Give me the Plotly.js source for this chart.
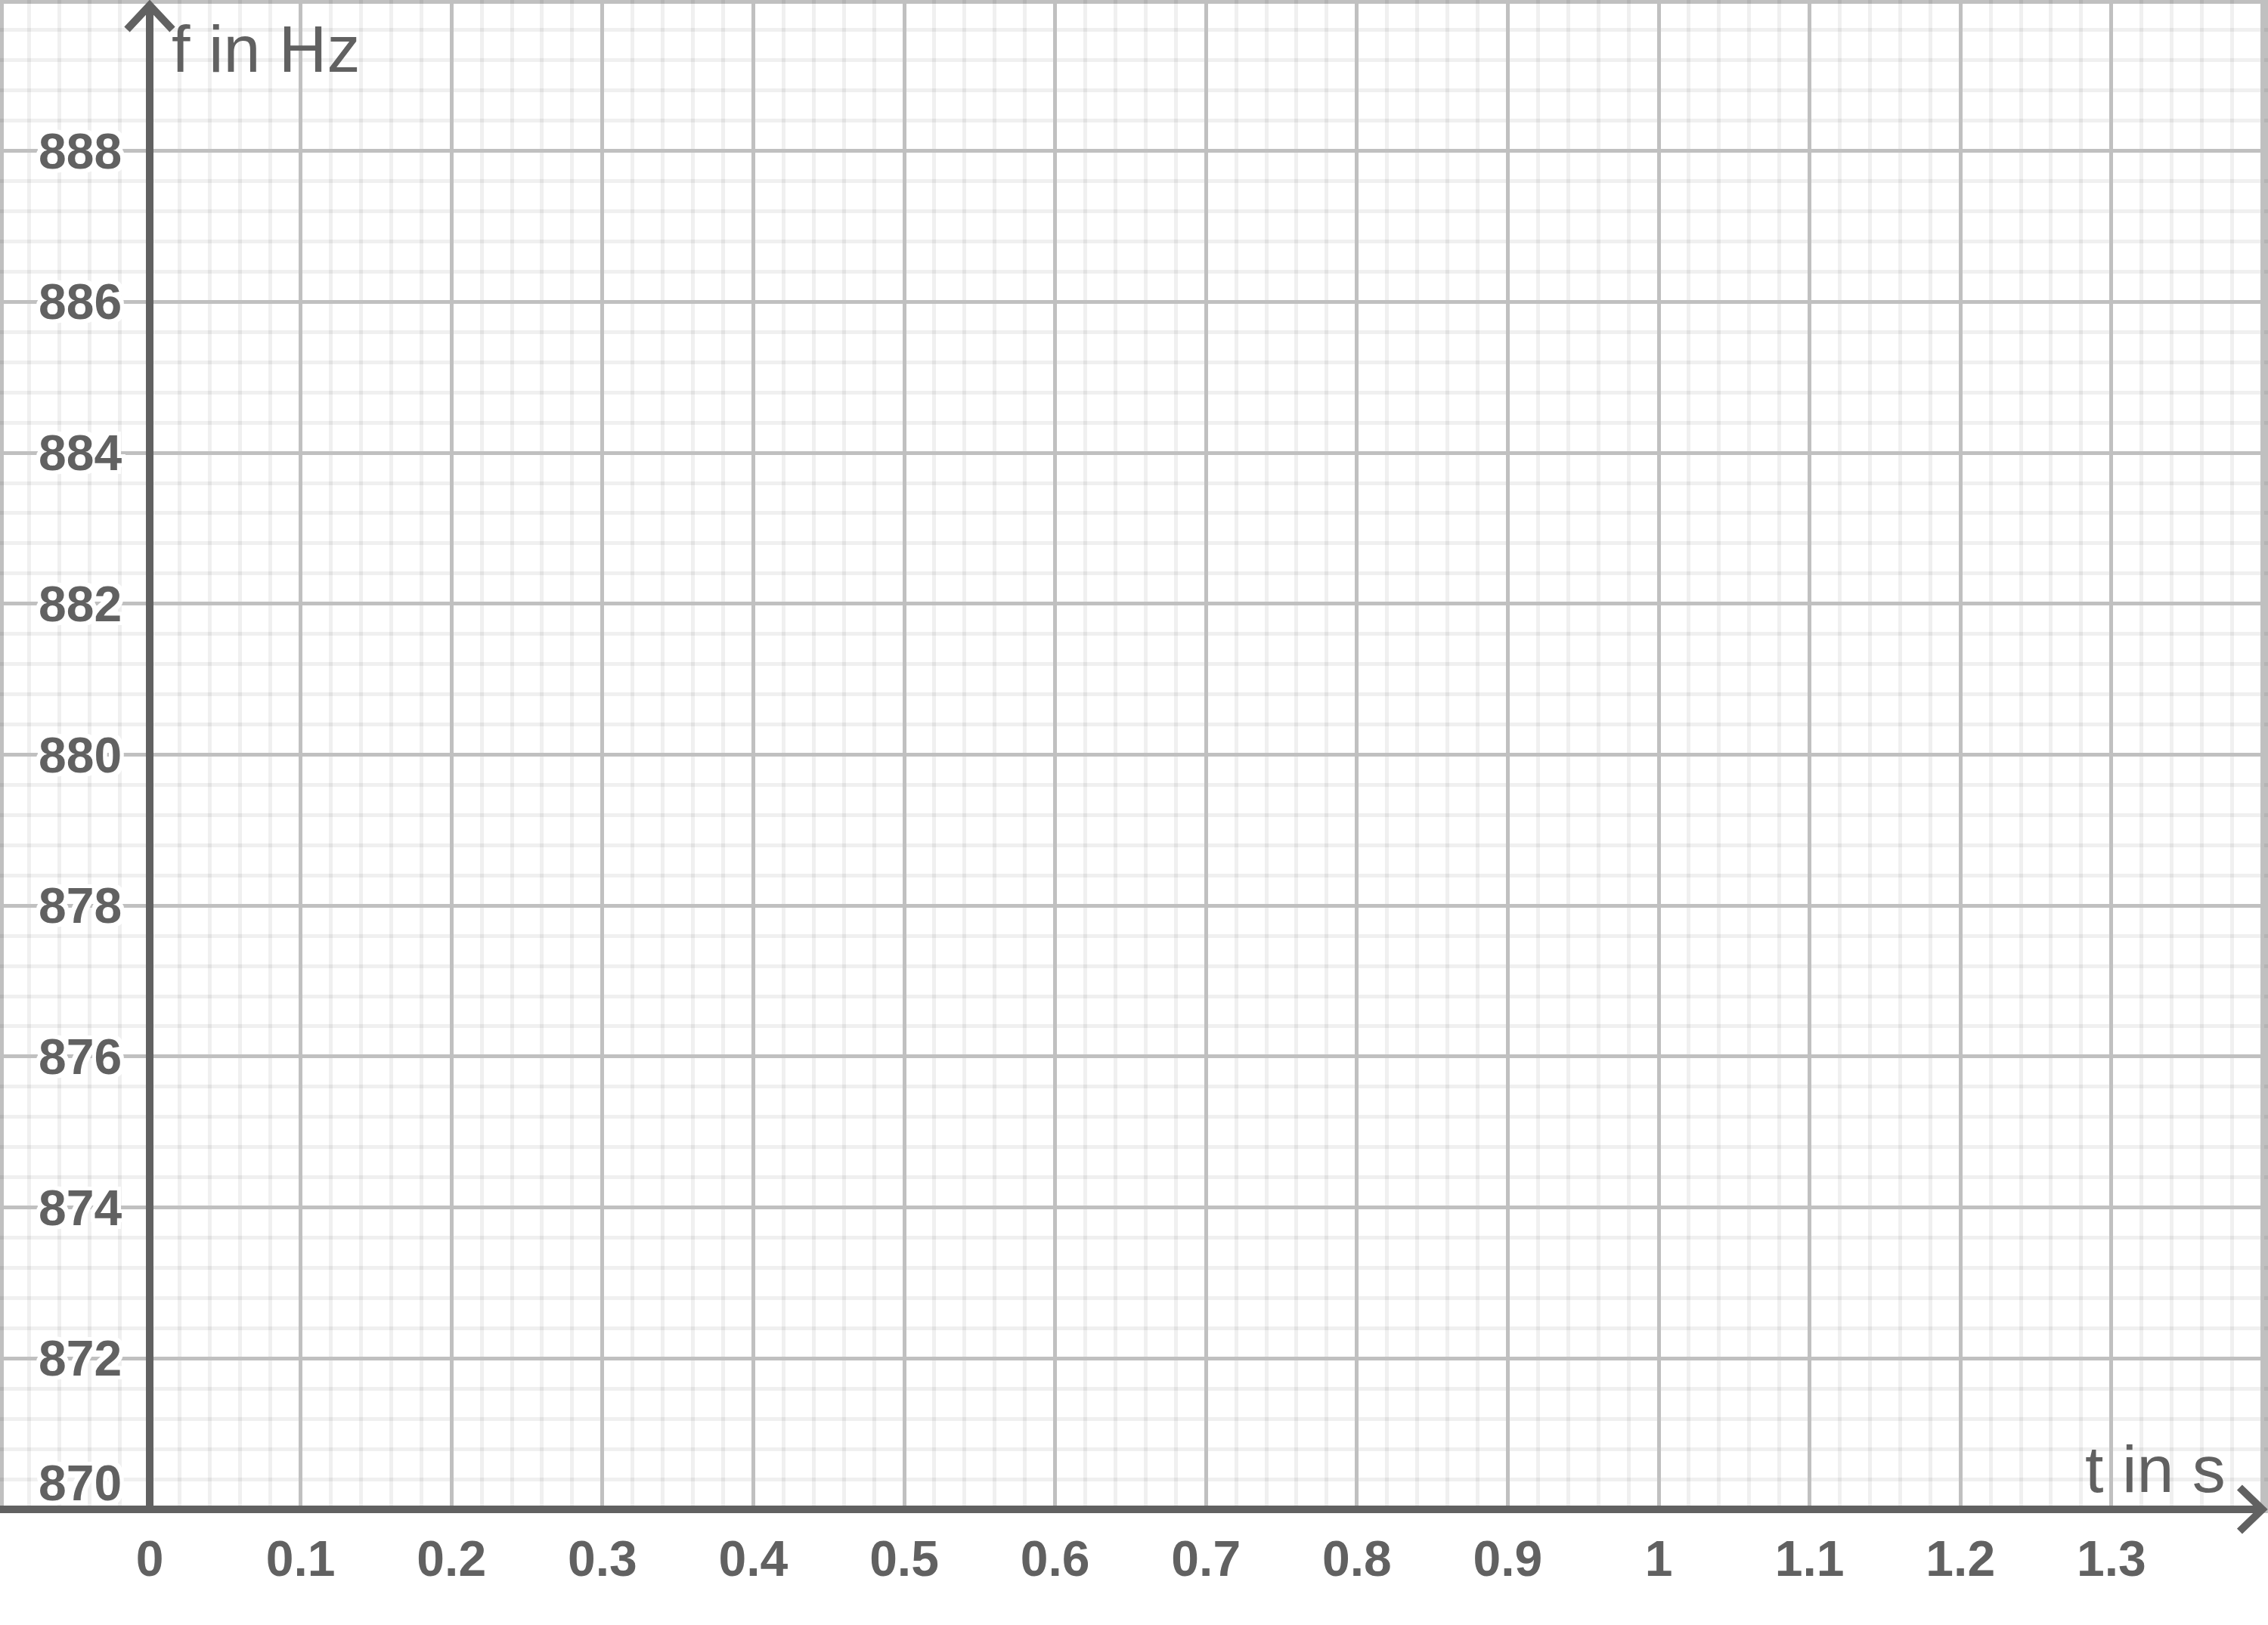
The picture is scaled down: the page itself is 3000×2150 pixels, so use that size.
<html>
    <head>
        <meta charset="utf-8">
        <script src="https://cdn.plot.ly/plotly-3.0.1.min.js"></script>
        <style>
            body{
                margin: 0;
                background: #fff;
            }
            #chart{
                width: 3000px;
                height: 2150px;
            }
        </style>
    </head>
    <body>
        <div id="chart"></div>
    </body>
    <script>
        // axis ticks (empty plot, grid only)
        var xTickVals = [0, 0.1, 0.2, 0.3, 0.4, 0.5, 0.6, 0.7, 0.8, 0.9, 1, 1.1, 1.2, 1.3, 1.4];
        var xTickText = ['0', '0.1', '0.2', '0.3', '0.4', '0.5', '0.6', '0.7', '0.8', '0.9', '1', '1.1', '1.2', '1.3', ''];
        var yTickVals = [870, 872, 874, 876, 878, 880, 882, 884, 886, 888];
        var yTickText = ['870', '872', '874', '876', '878', '880', '882', '884', '886', '888'];
        var xRange = [-0.0992, 1.4038];
        var yRange = [870, 890];
        var xTitle = 't in s';
        var yTitle = 'f in Hz';

        var ink = '#616161';
        var halo = '-5px -5px 0 #fff, 5px -5px 0 #fff, -5px 5px 0 #fff, 5px 5px 0 #fff,' +
                   ' 0 5px 0 #fff, 0 -5px 0 #fff, 5px 0 0 #fff, -5px 0 0 #fff';

        // empty trace so the axes exist
        var blank = {
            x: [],
            y: [],
            mode: 'lines',
            type: 'scatter',
            hoverinfo: 'skip'
        };

        var labels = yTickVals.map(function(v, i){
            return {
                x: 0, xref: 'x', y: v, yref: 'y',
                xanchor: 'right', yanchor: 'middle',
                xshift: -35, yshift: i === 0 ? 35 : 0,
                text: yTickText[i], showarrow: false,
                font: {family: 'Liberation Sans', size: 66, weight: 'bold', color: ink, shadow: halo}
            };
        });
        labels.push({
            x: 0, xref: 'x', y: 1, yref: 'paper',
            xanchor: 'left', yanchor: 'top', xshift: 27, yshift: -13,
            text: yTitle, showarrow: false,
            font: {family: 'Liberation Sans', size: 88, color: ink}
        });
        labels.push({
            x: 1.4, xref: 'x', y: 0, yref: 'paper',
            xanchor: 'right', yanchor: 'bottom', xshift: -46, yshift: 2,
            text: xTitle, showarrow: false,
            font: {family: 'Liberation Sans', size: 88, color: ink}
        });

        var axisShapes = [
            // frame
            {type: 'rect', xref: 'paper', yref: 'paper', x0: 0, x1: 1, y0: 0, y1: 1,
             line: {color: '#c0c0c0', width: 10}, layer: 'below'},
            // f axis
            {type: 'line', xref: 'x', yref: 'paper', x0: 0, x1: 0, y0: 0, y1: 1 - 7 / 1997,
             line: {color: ink, width: 10}},
            // t axis
            {type: 'line', xref: 'x', yref: 'paper', x0: xRange[0], x1: 1.4, y0: 0, y1: 0,
             line: {color: ink, width: 10}},
            // arrow heads
            {type: 'path', xref: 'x', yref: 'paper', xsizemode: 'pixel', ysizemode: 'pixel',
             xanchor: 0, yanchor: 1 - 7 / 1997, path: 'M-30,-32 L0,0 L30,-32',
             line: {color: ink, width: 10}},
            {type: 'path', xref: 'x', yref: 'paper', xsizemode: 'pixel', ysizemode: 'pixel',
             xanchor: 1.4, yanchor: 0, path: 'M-30,29 L0,0 L-30,-29',
             line: {color: ink, width: 10}}
        ];

        var layout = {
            width: 3000,
            height: 2150,
            margin: {l: 0, r: 0, t: 0, b: 153, pad: 0},
            paper_bgcolor: '#fff',
            plot_bgcolor: '#fff',
            showlegend: false,
            xaxis: {
                range: xRange,
                tickmode: 'array',
                tickvals: xTickVals,
                ticktext: xTickText,
                ticks: '',
                ticklabelstandoff: 21,
                showgrid: true,
                gridcolor: '#c0c0c0',
                gridwidth: 5,
                zeroline: false,
                showline: false,
                tickfont: {family: 'Liberation Sans', size: 66, weight: 'bold', color: ink},
                minor: {dtick: 0.02, tick0: 0, showgrid: true, gridcolor: 'rgba(0,0,0,0.06)', gridwidth: 5}
            },
            yaxis: {
                range: yRange,
                tickmode: 'linear',
                tick0: 870,
                dtick: 2,
                ticks: '',
                showticklabels: false,
                showgrid: true,
                gridcolor: '#c0c0c0',
                gridwidth: 5,
                zeroline: false,
                showline: false,
                minor: {dtick: 0.4, tick0: 870, showgrid: true, gridcolor: 'rgba(0,0,0,0.06)', gridwidth: 5}
            },
            shapes: axisShapes,
            annotations: labels
        };

        Plotly.newPlot('chart', [blank], layout, {staticPlot: true, displayModeBar: false});
    </script>
</html>
